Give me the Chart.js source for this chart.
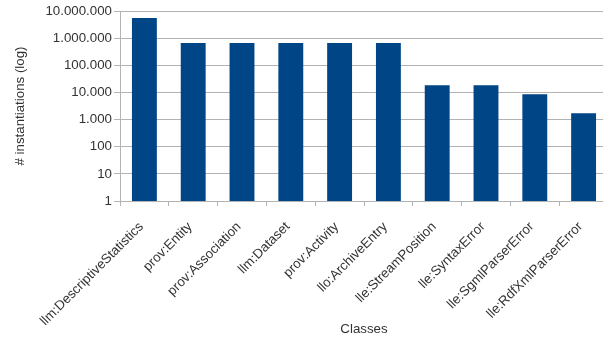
<!DOCTYPE html>
<html>
<head>
<meta charset="utf-8">
<script src="https://cdn.jsdelivr.net/npm/chart.js@4"></script>
<style>
  html, body { margin: 0; padding: 0; background: #fff; overflow: hidden; }
</style>
</head>
<body>
<canvas id="myChart" width="608" height="339"></canvas>
<script>
// Datos
const clases = [
    "llm:DescriptiveStatistics",
    "prov:Entity",
    "prov:Association",
    "llm:Dataset",
    "prov:Activity",
    "llo:ArchiveEntry",
    "lle:StreamPosition",
    "lle:SyntaxError",
    "lle:SgmlParserError",
    "lle:RdfXmlParserError"
];
const instancias = [5500000, 660000, 660000, 660000, 660000, 660000, 18500, 18500, 8600, 1700];
const ticksY = [1, 10, 100, 1000, 10000, 100000, 1000000, 10000000];

// Formato con puntos de miles
function formatoMiles(valor) {
    return String(Math.round(valor)).replace(/\B(?=(\d{3})+(?!\d))/g, ".");
}

const gris = "#b3b3b3";
const texto = "#333333";
const fuente = { family: "'Liberation Sans', Arial, sans-serif", size: 13.3 };

const ctx = document.getElementById("myChart");
const myChart = new Chart(ctx, {
    type: "bar",
    data: {
        labels: clases,
        datasets: [
            {
                label: "# instantiations",
                data: instancias,
                backgroundColor: "#004586",
                borderWidth: 0,
                categoryPercentage: 1,
                barPercentage: 0.51,
            },
        ],
    },
    options: {
        responsive: false,
        animation: false,
        layout: {
            padding: { left: 12, top: 11, right: 0, bottom: 2 },
        },
        plugins: {
            legend: { display: false },
            tooltip: { enabled: false },
        },
        scales: {
            x: {
                afterFit: (scale) => {
                    scale.height = 136;
                },
                grid: {
                    offset: true,
                    drawOnChartArea: false,
                    drawTicks: true,
                    tickLength: 5,
                    color: gris,
                },
                border: { color: gris },
                ticks: {
                    color: texto,
                    font: fuente,
                    minRotation: 45,
                    maxRotation: 45,
                    autoSkip: false,
                    padding: 13,
                    labelOffset: -3,
                },
                title: {
                    display: true,
                    text: "Classes",
                    color: texto,
                    font: fuente,
                    padding: { top: 4, bottom: 0 },
                },
            },
            y: {
                type: "logarithmic",
                min: 1,
                max: 10000000,
                afterBuildTicks: (scale) => {
                    scale.ticks = ticksY.map((v) => ({ value: v }));
                },
                afterFit: (scale) => {
                    scale.width = 108;
                },
                grid: {
                    color: gris,
                    tickLength: 6,
                },
                border: { color: gris },
                ticks: {
                    color: texto,
                    font: fuente,
                    padding: 2,
                    callback: function (value) {
                        return formatoMiles(value);
                    },
                },
                title: {
                    display: true,
                    text: "# instantiations (log)",
                    color: texto,
                    font: fuente,
                    padding: { top: 0, bottom: 4 },
                },
            },
        },
    },
});
</script>
</body>
</html>
